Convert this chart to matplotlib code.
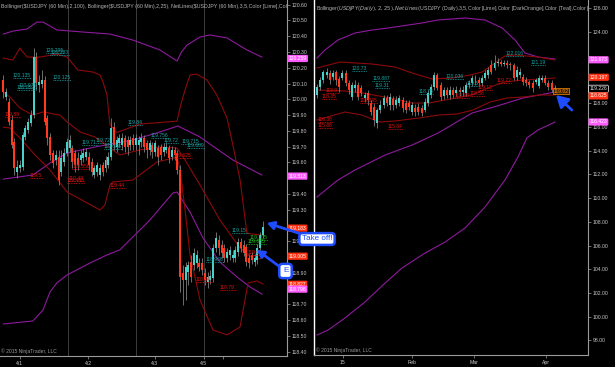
import matplotlib
matplotlib.use("Agg")
import matplotlib.pyplot as plt
import matplotlib.transforms as mtransforms
import numpy as np

plt.rcParams['font.family'] = ['Liberation Sans', 'DejaVu Sans']

# ---------------- LEFT PANEL: USDJPY 60 min ----------------
l_open = [120.123,120.015,119.983,119.869,119.729,119.539,119.565,119.571,119.761,119.805,
          119.850,119.901,120.268,120.091,120.097,120.123,119.882,119.761,119.660,119.615,
          119.634,119.539,119.603,119.660,119.691,119.691,119.660,119.628,119.615,119.628,
          119.634,119.634,119.603,119.520,119.539,119.520,119.584,119.565,119.584,119.634,
          119.825,119.698,119.723,119.710,119.755,119.742,119.710,119.755,119.710,119.710,
          119.729,119.755,119.723,119.679,119.710,119.666,119.691,119.698,119.666,119.679,
          119.691,119.634,119.679,119.660,119.552,118.899,118.855,118.906,118.969,118.950,
          118.963,118.963,118.963,118.899,118.843,118.855,118.867,119.058,119.108,119.077,
          119.058,118.994,119.013,118.994,118.994,119.032,119.096,119.077,119.064,118.994,
          119.013,118.969,118.982,119.058,119.140]
l_close = [120.046,120.046,119.856,119.710,119.565,119.571,119.584,119.774,119.818,119.856,
           119.901,120.268,120.104,120.110,120.123,119.856,119.755,119.647,119.596,119.647,
           119.488,119.628,119.660,119.729,119.742,119.603,119.584,119.584,119.647,119.660,
           119.666,119.584,119.539,119.565,119.584,119.565,119.539,119.615,119.634,119.818,
           119.710,119.742,119.755,119.755,119.698,119.698,119.742,119.710,119.755,119.742,
           119.755,119.698,119.679,119.723,119.666,119.723,119.634,119.647,119.698,119.698,
           119.628,119.679,119.647,119.552,118.874,118.855,118.937,118.950,118.874,119.026,
           119.013,118.937,118.918,118.855,118.874,118.880,119.058,119.121,119.058,119.026,
           118.994,119.032,119.045,119.013,119.045,119.096,119.058,119.026,118.969,118.963,
           118.982,118.994,119.058,119.140,119.190]
l_high = [120.154,120.072,120.008,119.901,119.755,119.615,119.615,119.793,119.837,119.882,
          119.932,120.325,120.300,120.154,120.186,120.148,119.901,119.786,119.679,119.679,
          119.679,119.679,119.691,119.755,119.774,119.710,119.679,119.666,119.679,119.691,
          119.691,119.666,119.628,119.584,119.603,119.590,119.603,119.641,119.666,119.882,
          119.856,119.767,119.780,119.786,119.774,119.767,119.767,119.780,119.780,119.767,
          119.786,119.774,119.742,119.742,119.729,119.742,119.710,119.717,119.723,119.729,
          119.710,119.704,119.698,119.679,119.584,118.950,118.969,118.975,119.013,119.058,
          119.045,118.994,118.994,118.931,118.906,118.918,119.083,119.159,119.140,119.108,
          119.083,119.058,119.070,119.045,119.070,119.121,119.121,119.108,119.083,119.020,
          119.032,119.020,119.083,119.159,119.229]
l_low = [120.008,119.996,119.837,119.691,119.520,119.501,119.539,119.552,119.742,119.786,
         119.831,119.882,120.059,120.046,120.072,119.837,119.710,119.615,119.565,119.584,
         119.457,119.514,119.577,119.641,119.666,119.565,119.539,119.552,119.584,119.603,
         119.615,119.552,119.514,119.501,119.514,119.488,119.514,119.539,119.565,119.615,
         119.679,119.666,119.698,119.679,119.666,119.647,119.679,119.679,119.679,119.647,
         119.698,119.666,119.628,119.647,119.628,119.641,119.584,119.615,119.641,119.660,
         119.596,119.615,119.615,119.527,118.779,118.696,118.728,118.823,118.843,118.918,
         118.931,118.912,118.886,118.823,118.805,118.830,118.843,119.032,119.013,118.994,
         118.969,118.969,118.982,118.969,118.969,119.007,119.032,119.007,118.944,118.931,
         118.956,118.944,118.956,119.032,119.121]

# Bollinger (2,100) - purple, read at bar indices
l_bb100_up_x = [0, 3.5, 8.6, 12.2, 14.4, 19.4, 28.8, 38.6, 46.9, 56.7, 62.9, 64.5, 66.5, 71.2, 74.8, 81.0, 88.2, 93.6]
l_bb100_up = [120.414,120.433,120.446,120.49,120.49,120.44,120.427,120.414,120.376,120.313,120.243,120.30,120.344,120.395,120.408,120.389,120.313,120.268]
l_bb100_mid_x = [0, 10.7, 16.9, 23.1, 35.0, 46.9, 56.7, 63.2, 71.2, 83.1, 93.6]
l_bb100_mid = [119.494,119.52,119.596,119.66,119.704,119.742,119.793,119.831,119.761,119.615,119.52]
l_bb100_lo_x = [0, 10.7, 14.4, 16.9, 19.4, 23.1, 31.4, 37.5, 42.2, 53.1, 61.4, 62.9, 67.6, 72.3, 78.4, 84.6, 89.3, 93.6]
l_bb100_lo = [118.575,118.594,118.664,118.778,118.836,118.886,118.962,119.013,119.045,119.235,119.406,119.412,119.285,119.12,118.968,118.873,118.81,118.765]
# Bollinger (2,25) - dark red
l_bb25_up_x = [0, 3.5, 6.0, 8.6, 13.3, 19.4, 23.1, 27.0, 32.5, 35.0, 36.1, 37.5, 38.6, 41.1, 49.5, 62.9, 64.0, 65.8, 67.6, 70.0, 73.7, 77.3, 81.0, 83.1, 85.7, 88.2, 93.6]
l_bb25_up = [120.262,120.249,120.325,120.268,120.268,120.287,120.268,120.186,120.173,120.154,120.11,120.03,119.84,119.79,119.843,119.862,119.95,120.06,120.154,120.16,120.123,120.027,119.881,119.71,119.49,119.15,119.139]
l_bb25_mid_x = [0, 2.4, 6.0, 10.7, 14.4, 20.5, 23.1, 27.8, 33.2, 38.6, 42.2, 49.5, 56.7, 62.9, 65.8, 71.2, 78.4, 85.7, 91.1, 93.6]
l_bb25_mid = [120.046,120.015,119.945,119.9,119.92,119.9,119.856,119.793,119.761,119.691,119.647,119.679,119.698,119.691,119.615,119.457,119.235,119.057,118.981,118.994]
l_bb25_lo_x = [0, 2.4, 6.0, 11.5, 16.9, 23.1, 30.3, 35.0, 36.8, 38.6, 39.7, 46.9, 55.6, 62.9, 64.0, 65.8, 67.6, 71.2, 75.9, 81.0, 85.7, 88.6, 91.8, 94]
l_bb25_lo = [119.824,119.818,119.755,119.647,119.552,119.412,119.343,119.298,119.33,119.457,119.476,119.488,119.602,119.634,119.552,119.298,119.013,118.728,118.537,118.506,118.556,118.835,118.848,118.829]

l_ticks = [6.0, 30.7, 54.9, 72.6]
l_ticklabels = ['4/1', '4/2', '4/3', '4/5']
l_sessions = [23.4, 48.0, 72.6]

# NetLines labels: (text, start bar, colour key)
l_net = [("120.295", 15.5, 't'), ("120.283", 17.0, 't'), ("120.135", 3.5, 't'), ("120.125", 18.0, 't'),
         ("120.075", 5.7, 't'), ("120.057", 5.0, 't'), ("119.89", 0.6, 'r'), ("119.5", 9.7, 'r'),
         ("119.558", 25.0, 'r'), ("119.48", 23.5, 'r'), ("119.468", 23.0, 'r'), ("119.44", 38.6, 'r'),
         ("119.71", 28.5, 't'), ("119.72", 33.5, 't'), ("119.688", 36.5, 't'), ("119.84", 45.0, 't'),
         ("119.756", 53.5, 't'), ("119.72", 58.0, 't'), ("119.715", 64.5, 't'), ("119.689", 66.5, 't'),
         ("119.625", 61.5, 'r'), ("119.15", 82.8, 't'), ("119.085", 88.3, 'g'), ("119.105", 89.3, 'g'),
         ("118.968", 73.3, 't'), ("118.84", 69.8, 'r'), ("118.79", 78.4, 'r'), ("119.01", 88.3, 'r')]
l_tags = [(120.259, 'p'), (119.513, 'p'), (119.183, 'r'), (119.005, 'r'), (118.827, 'r'), (118.796, 'p')]

# ---------------- RIGHT PANEL: USDJPY daily ----------------
r_open = [118.70,119.375,119.966,120.388,120.557,120.219,120.641,120.05,120.135,120.557,
          119.713,118.531,119.291,119.544,119.291,118.447,118.869,118.025,117.687,116.337,
          117.434,117.856,118.447,117.856,118.362,117.856,118.025,118.278,118.025,118.025,
          117.265,117.603,117.687,117.603,117.434,118.025,118.70,119.375,120.388,119.544,
          118.616,119.122,118.70,119.122,118.869,119.122,118.953,118.869,119.544,119.713,
          120.135,119.966,119.713,120.135,120.388,121.232,120.978,121.40,121.485,121.316,
          121.40,121.316,121.232,120.219,120.388,120.219,119.966,119.797,119.713,119.797,
          119.459,119.966,120.135,119.713,119.713,118.953]
r_close = [119.375,119.966,120.641,120.641,119.966,120.557,119.966,119.375,120.557,119.713,
           119.122,119.544,119.544,118.531,118.869,118.70,118.278,117.265,116.59,117.434,
           117.856,118.447,118.025,118.531,117.856,118.278,118.447,117.603,117.434,117.687,
           117.856,117.265,117.265,117.181,118.109,118.869,119.375,120.388,119.291,118.531,
           119.122,118.70,119.122,118.70,119.122,118.953,119.122,119.544,119.713,120.135,
           119.797,119.713,120.135,120.557,120.81,120.641,121.40,121.485,121.316,121.40,
           121.232,121.232,120.135,120.81,120.641,119.797,119.713,119.544,119.291,119.966,
           120.135,120.135,119.713,119.375,119.122,119.291]
r_high = [119.628,120.219,120.81,120.978,120.81,120.81,120.81,120.303,120.81,120.81,
          119.966,119.797,119.966,119.797,119.544,118.953,119.122,118.278,118.025,117.603,
          118.278,118.70,118.70,118.869,118.616,118.616,118.70,118.531,118.278,118.278,
          118.109,117.94,118.025,117.856,118.447,119.122,119.628,120.641,120.557,119.797,
          119.375,119.375,119.459,119.375,119.459,119.375,119.459,119.797,119.966,120.388,
          120.388,120.219,120.388,120.81,121.063,121.654,122.076,121.822,121.654,121.654,
          121.654,121.485,121.40,121.147,120.978,120.472,120.219,119.966,119.966,120.135,
          120.388,120.388,120.388,119.966,119.966,119.544]
r_low = [118.447,119.122,119.713,120.135,119.628,119.966,119.544,118.953,119.966,119.459,
         118.784,118.278,118.953,118.278,118.616,118.109,117.856,117.012,116.084,115.915,
         117.181,117.603,117.772,117.434,117.434,117.603,117.772,117.265,117.181,117.434,
         117.012,116.928,117.012,116.928,117.265,117.772,118.447,119.122,119.122,118.278,
         118.362,118.447,118.362,118.447,118.616,118.616,118.616,118.616,119.291,119.459,
         119.544,119.459,119.459,119.966,120.135,120.472,120.81,121.147,121.147,121.147,
         120.978,120.81,119.966,119.966,120.135,119.544,119.459,119.291,118.953,119.628,
         119.291,119.797,119.544,119.122,118.953,118.784]

r_pu_up_x = [0, 2.5, 6.6, 12, 17.4, 22.4, 33.1, 38.2, 46.7, 53, 58.4, 62.5, 65.6, 69.7, 75.1]
r_pu_up = [121.822,122.497,123.341,123.932,124.185,124.354,124.776,125.029,125.198,125.029,124.354,123.341,122.244,121.907,121.738]
r_pu_mid_x = [0, 6.6, 12, 21.5, 30, 38.2, 48.9, 56.8, 65, 75.1]
r_pu_mid = [110.092,111.527,112.373,113.637,114.48,115.493,117.18,117.77,118.447,118.953]
r_pu_lo_x = [0, 3.5, 8.8, 15.1, 21.5, 26.8, 34.1, 40.4, 46.7, 53, 59.3, 63.4, 66.2, 69.7, 75.1]
r_pu_lo = [98.446,98.868,99.88,101.23,102.834,104.1,105.366,106.29,107.476,109.245,111.527,113.466,115.071,115.746,116.421]
r_bb_up_x = [0, 7.3, 17.4, 24.6, 30, 36.3, 42.6, 48.3, 52.1, 56.2, 59.3, 62.5, 69.7, 75.1]
r_bb_up = [120.978,121.485,121.316,121.063,120.557,120.05,120.135,120.388,120.641,121.4,121.991,122.076,121.907,121.654]
r_bb_mid_x = [0, 8.8, 14.2, 19.6, 24.6, 30, 35.3, 40.4, 48.9, 54.6, 59.3, 65, 70.3, 75.1]
r_bb_mid = [119.122,119.038,118.869,118.616,118.362,118.025,118.025,118.278,118.7,119.375,119.797,119.966,120.05,120.135]
r_bb_lo_x = [0, 8.8, 14.2, 19.6, 24.6, 32.2, 38.5, 44.2, 49.2, 54.6, 59.9, 65, 70.3, 75.1]
r_bb_lo = [116.59,117.265,117.012,116.421,116.506,116.759,117.012,117.096,117.434,118.109,118.447,118.531,118.7,118.7]

r_ticks = [8.2, 30.0, 49.5, 72.2]
r_ticklabels = ['15', 'Feb', 'Mar', 'Apr']

r_net = [("120.73", 11.0, 't'), ("119.887", 17.4, 't'), ("119.31", 18.3, 't'), ("120.036", 40.7, 't'),
         ("122.016", 59.6, 't'), ("121.19", 67.5, 't'), ("118.78", 32.2, 't'), ("119.5", 47.3, 't'),
         ("118.9", 2.8, 'r'), ("118.35", 1.6, 'r'), ("118.045", 13.6, 'r'), ("116.38", 0.3, 'r'),
         ("115.88", 0.3, 'r'), ("115.84", 22.4, 'r'), ("119.72", 56.8, 'r'), ("119.12", 50.8, 'r'),
         ("118.58", 48.3, 'r'), ("118.48", 43.5, 'r')]
r_tags = [(121.673, 'p'), (120.197, 'r'), (119.226, 'k'), (118.625, 'r'), (116.423, 'p')]

header_l = "Bollinger($USDJPY (60 Min),2,100), Bollinger($USDJPY (60 Min),2,25), NetLines($USDJPY (60 Min),3,5,Color [Lime],Color"
header_r = "Bollinger($USDJPY (Daily),2,25), NetLines($USDJPY (Daily),3,5,Color [Lime],Color [DarkOrange],Color [Teal],Color ["
copyright_txt = "\u00a9 2015 NinjaTrader, LLC"

# ---------------- styling ----------------
BG = 'black'
UP = '#48d1c8'
DN = '#ff3a1e'
WICK = '#8a8a8a'
PURPLE = '#8e1a9e'
DRED = '#8b0a0a'
AXC = '#9a9a9a'
TXT = '#c8c8c8'
NETC = {'t': '#1aa3a3', 'r': '#e01010', 'g': '#22c022', 'o': '#ff8c00'}
TAGC = {'p': ('#ff5cff', 'white', 'none'), 'r': ('#ff3010', 'white', 'none'), 'k': ('black', '#dddddd', 'white')}
BLUE = '#1e4cff'

W, H = 615, 367
fig = plt.figure(figsize=(W / 100, H / 100), dpi=100, facecolor=BG)
axL = fig.add_axes([0 / W, (H - 356) / H, 287 / W, 356 / H], facecolor=BG)
axR = fig.add_axes([314 / W, (H - 355) / H, 274 / W, 355 / H], facecolor=BG)
axL.set_zorder(5)


def style_axis(ax, xlim, ylim, yticks, fmt, tagvals, gap):
    ax.set_xlim(*xlim)
    ax.set_ylim(*ylim)
    for s in ['top', 'left']:
        ax.spines[s].set_visible(False)
    for s in ['right', 'bottom']:
        ax.spines[s].set_color(AXC)
        ax.spines[s].set_linewidth(0.8)
    ax.yaxis.tick_right()
    ax.set_yticks(yticks)
    # labels hidden behind the price tags
    ax.set_yticklabels(['' if min(abs(v - t) for t in tagvals) < gap else fmt % v for v in yticks])
    ax.tick_params(axis='y', colors=AXC, labelcolor=TXT, labelsize=3.7, length=2.5, width=0.5, pad=1.2)
    ax.tick_params(axis='x', colors=AXC, labelcolor=TXT, labelsize=3.7, length=2.0, width=0.5, pad=1.5)


def candles(ax, o, h, l, c, width, minh):
    o, h, l, c = map(np.asarray, (o, h, l, c))
    x = np.arange(len(o))
    ax.vlines(x, l, h, color=WICK, lw=0.55, zorder=2)
    up = c >= o
    bot = np.minimum(o, c)
    hgt = np.maximum(np.abs(c - o), minh)
    ax.bar(x[up], hgt[up], width, bot[up], color=UP, lw=0, zorder=3)
    ax.bar(x[~up], hgt[~up], width, bot[~up], color=DN, lw=0, zorder=3)


def netlabels(ax, items, per_char):
    for txt, x0, ck in items:
        y = float(txt)
        col = NETC[ck]
        ax.text(x0, y, txt, color=col, fontsize=3.6, ha='left', va='bottom', zorder=6)
        ax.plot([x0, x0 + per_char * len(txt)], [y, y], color=col, lw=0.6, ls=(0, (1, 1)), zorder=6)


def tags(ax, items):
    tr = mtransforms.blended_transform_factory(ax.transAxes, ax.transData)
    for v, ck in items:
        fc, tc, ec = TAGC[ck]
        ax.text(1.006, v, '%.3f' % v, transform=tr, fontsize=3.6, color=tc, ha='left', va='center',
                clip_on=False, zorder=10,
                bbox=dict(boxstyle='round,pad=0.22', fc=fc, ec=ec, lw=0.5))


# ---- left panel ----
style_axis(axL, (-1.19, 102.7), (118.372, 120.630), np.round(np.arange(118.4, 120.61, 0.1), 2), '%.2f',
           [t[0] for t in l_tags], 0.03)
for s in l_sessions:
    axL.axvline(s, color='#3c3c3c', lw=0.7, zorder=1)
axL.plot(l_bb100_up_x, l_bb100_up, color=PURPLE, lw=0.8, zorder=2)
axL.plot(l_bb100_mid_x, l_bb100_mid, color=PURPLE, lw=0.8, zorder=2)
axL.plot(l_bb100_lo_x, l_bb100_lo, color=PURPLE, lw=0.8, zorder=2)
axL.plot(l_bb25_up_x, l_bb25_up, color=DRED, lw=0.8, zorder=2)
axL.plot(l_bb25_mid_x, l_bb25_mid, color=DRED, lw=0.8, zorder=2)
axL.plot(l_bb25_lo_x, l_bb25_lo, color=DRED, lw=0.8, zorder=2)
candles(axL, l_open, l_high, l_low, l_close, 0.72, 0.004)
netlabels(axL, l_net, 0.95)
axL.set_xticks(l_ticks + [79.5])
axL.set_xticklabels(l_ticklabels + [''])
tags(axL, l_tags)
axL.text(0.003, 0.988, header_l, transform=axL.transAxes, fontsize=3.75, color='#b4b4b4',
         ha='left', va='top', clip_on=True, zorder=8)
axL.text(0.004, 0.006, copyright_txt, transform=axL.transAxes, fontsize=3.6, color='#9a9a9a',
         ha='left', va='bottom', zorder=8)

# ---- right panel ----
style_axis(axR, (-0.95, 85.5), (96.76, 126.717), np.arange(98, 126.1, 2), '%.2f',
           [t[0] for t in r_tags], 0.4)
axR.spines['left'].set_visible(True)
axR.spines['left'].set_color('white')
axR.spines['left'].set_linewidth(1.0)
axR.plot(r_pu_up_x, r_pu_up, color=PURPLE, lw=0.8, zorder=2)
axR.plot(r_pu_mid_x, r_pu_mid, color=PURPLE, lw=0.8, zorder=2)
axR.plot(r_pu_lo_x, r_pu_lo, color=PURPLE, lw=0.8, zorder=2)
axR.plot(r_bb_up_x, r_bb_up, color=DRED, lw=0.8, zorder=2)
axR.plot(r_bb_mid_x, r_bb_mid, color=DRED, lw=0.8, zorder=2)
axR.plot(r_bb_lo_x, r_bb_lo, color=DRED, lw=0.8, zorder=2)
candles(axR, r_open, r_high, r_low, r_close, 0.62, 0.04)
netlabels(axR, r_net, 0.8)
axR.text(74.6, 119.02, "119.02", color=NETC['o'], fontsize=3.6, ha='left', va='center', zorder=7,
         bbox=dict(boxstyle='square,pad=0.15', fc='#3a2200', ec=NETC['o'], lw=0.5))
axR.set_xticks(r_ticks)
axR.set_xticklabels(r_ticklabels)
tags(axR, r_tags)
axR.text(0.006, 0.988, header_r, transform=axR.transAxes, fontsize=3.75, color='#b4b4b4',
         ha='left', va='top', clip_on=True, zorder=8)
axR.text(0.006, 0.006, copyright_txt, transform=axR.transAxes, fontsize=3.6, color='#9a9a9a',
         ha='left', va='bottom', zorder=8)

# ---- callouts ----
box = dict(boxstyle='round,pad=0.3,rounding_size=0.4', fc='white', ec=BLUE, lw=1.8)
arrow = dict(arrowstyle='-|>,head_length=0.7,head_width=0.4', color=BLUE, lw=2.0, shrinkA=0, shrinkB=0)
axL.annotate('Take off!', xy=(95.4, 119.216), xycoords='data', xytext=(317, H - 239),
             textcoords='figure pixels', fontsize=5.8, color=BLUE, ha='center', va='center',
             bbox=box, arrowprops=arrow, annotation_clip=False, zorder=20)
axL.annotate('E', xy=(91.8, 119.045), xycoords='data', xytext=(285.5, H - 271),
             textcoords='figure pixels', fontsize=5.8, color=BLUE, ha='center', va='center',
             bbox=dict(boxstyle='round,pad=0.45,rounding_size=0.4', fc='white', ec=BLUE, lw=1.8),
             arrowprops=arrow, annotation_clip=False, zorder=20)
axR.annotate('', xy=(75.4, 118.70), xycoords='data', xytext=(80.4, 117.43),
             textcoords='data', arrowprops=arrow, annotation_clip=False, zorder=20)

fig.savefig('out.png', dpi=100, facecolor=BG)
